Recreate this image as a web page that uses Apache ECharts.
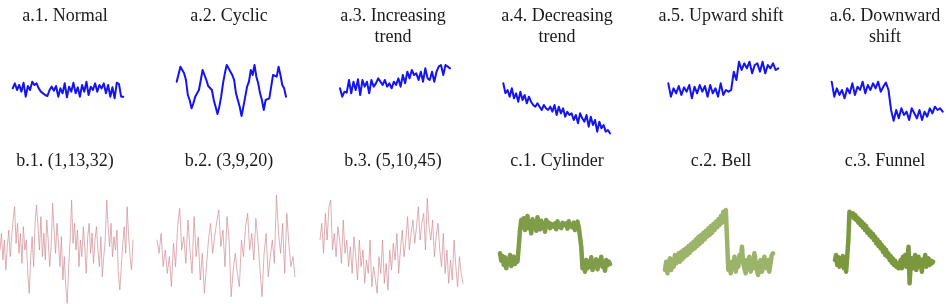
<!DOCTYPE html>
<html>
<head>
<meta charset="utf-8">
<script src="https://cdn.jsdelivr.net/npm/echarts@6/dist/echarts.min.js"></script>
<style>
  html, body { margin: 0; padding: 0; background: #fff; }
  #main { width: 951px; height: 304px; }
</style>
</head>
<body>
<div id="main"></div>
<script>
// panel titles
var titles = ['a.1. Normal', 'a.2. Cyclic', 'a.3. Increasing\ntrend', 'a.4. Decreasing\ntrend', 'a.5. Upward shift', 'a.6. Downward\nshift',
              'b.1. (1,13,32)', 'b.2. (3,9,20)', 'b.3. (5,10,45)', 'c.1. Cylinder', 'c.2. Bell', 'c.3. Funnel'];

// series values (depth below panel top; axis is inverted)
var normal = [265,250,270,255,275,248,290,258,270,245,255,250,265,275,280,285,288,270,260,272,258,290,265,280,250,292,260,275,248,280,262,290,255,275,245,285,260,270,250,275,255,265,250,280,255,290,262,295,248,252,290,290];
var cyclic = [245,250,200,205,220,240,285,300,325,310,290,280,270,265,210,208,240,258,255,270,300,320,342,320,290,250,220,195,205,215,225,240,280,300,320,348,320,290,260,245,210,225,195,230,250,280,300,330,300,300,295,290,225,220,230,200,225,255,265,290];
var increasing = [265,290,275,278,240,280,245,270,238,285,240,260,245,280,240,260,250,235,245,255,240,260,250,265,245,255,235,260,225,250,215,235,210,225,220,240,215,245,205,235,240,215,245,215,200,195,225,195,200,205];
var decreasing = [250,280,270,290,265,295,280,305,275,300,285,310,290,305,315,320,310,320,330,315,325,330,320,335,315,345,320,340,325,350,335,345,340,360,345,370,340,355,365,345,380,350,375,360,395,365,385,375,395,390,400];
var upward = [250,290,265,280,258,285,262,275,255,295,260,280,255,275,258,290,255,280,265,290,250,285,270,275,270,215,240,185,210,190,205,185,220,195,190,215,185,220,195,205,190,210,205];
var downward = [245,290,265,285,270,295,265,280,250,285,260,270,245,280,255,270,250,265,245,275,260,248,270,330,362,330,355,325,345,335,360,325,340,355,330,360,335,350,325,340,320,330,325,335];
var b1 = [330,280,360,300,390,320,270,350,290,240,200,310,250,340,280,370,260,330,300,400,460,350,290,380,250,195,260,330,230,350,280,360,240,300,380,320,190,270,340,250,310,380,290,420,350,440,490,380,300,180,310,250,330,270,380,300,350,260,320,400,290,250,340,280,370,300,260,330,380,290,410,350,300,180,260,320,250,350,290,330,270,400,450,380,310,260,340,200,290,350,390,300];
var b2 = [300,340,280,380,330,400,350,440,310,380,260,205,330,290,370,240,330,400,230,350,290,420,340,460,380,300,250,340,290,245,210,320,270,380,230,300,470,390,340,400,440,300,350,260,220,330,280,360,235,300,390,470,340,280,410,350,300,370,165,280,340,250,400,220,310,380,350,410];
var b3 = [300,250,340,220,300,200,180,330,280,350,260,300,370,240,340,300,380,320,400,290,350,420,300,380,330,430,360,400,300,440,380,420,460,350,400,300,430,370,450,330,390,310,360,280,400,330,270,350,300,230,330,280,240,310,260,200,300,250,220,330,175,260,300,240,350,290,250,330,380,280,400,330,430,360,420,300,380,440,350,400,430];
var cylinder = [340,362,348,375,352,385,358,370,345,378,360,350,372,355,365,320,270,
                240,262,235,270,248,228,265,252,280,238,258,245,272,232,255,268,242,262,250,275,240,258,248,265,252,246,260,250,268,244,258,252,264,248,256,262,250,266,244,258,254,262,248,270,255,245,262,258,
                320,385,370,395,360,385,365,380,352,390,368,375,358,388,362,372,350,380,368,392,360,376,365,372];
var bell = [390,365,400,375,355,390,360,380,345,370,355,340,365,335,358,330,350,325,345,318,338,312,330,305,325,298,318,290,312,285,305,278,298,272,290,265,285,258,278,252,270,245,262,238,255,228,248,215,235,210,
            300,390,375,400,365,385,350,395,370,380,345,360,320,370,385,400,360,380,350,395,372,385,340,365,390,405,375,360,395,380,350,370,385,360,395,370,345,340];
var funnel = [360,345,375,352,380,355,370,348,385,362,395,400,300,215,
              212,228,220,235,225,240,232,248,238,255,245,262,252,270,258,278,268,285,275,292,282,300,290,310,298,318,306,325,315,335,322,345,330,350,340,360,348,368,355,375,362,380,370,385,372,
              360,385,350,375,345,380,365,320,430,370,355,385,360,345,390,372,350,380,365,395,358,372,345,380,368,355,375,362,370,365];

var allData = [normal, cyclic, increasing, decreasing, upward, downward, b1, b2, b3, cylinder, bell, funnel];

var colCenter = [65, 229, 393, 557, 721, 885];
var lineLeft  = [12.7, 176.7, 340, 503.3, 668.3, 831.7, 0, 157, 320, 500, 665, 835];
var lineWidthPx = [110.6, 109.3, 110, 106.7, 110, 111, 133, 138, 143, 110, 108, 98];

var blue = '#1414f0';
var thinRed = '#cf8c94';
var greens = ['#7f9c48', '#9cb36a', '#7b983f'];

var grids = [], xAxes = [], yAxes = [], series = [], titleList = [];
for (var i = 0; i < 12; i++) {
  var row = i < 6 ? 0 : 1;
  grids.push({
    left: lineLeft[i], width: lineWidthPx[i],
    top: row === 0 ? 0 : 140, height: row === 0 ? 140 : 164
  });
  var cats = allData[i].map(function (v, k) { return k; });
  xAxes.push({ type: 'category', gridIndex: i, data: cats, boundaryGap: false, show: false });
  yAxes.push({ type: 'value', gridIndex: i, inverse: true, min: 0, max: row === 0 ? 420 : 492, show: false });
  var color, width;
  if (i < 6) { color = blue; width = 2; }
  else if (i < 9) { color = thinRed; width = 0.7; }
  else { color = greens[i - 9]; width = 4.5; }
  series.push({
    type: 'line', xAxisIndex: i, yAxisIndex: i, data: allData[i],
    symbol: 'none', silent: true, animation: false,
    lineStyle: { color: color, width: width, join: 'round', cap: 'round' }
  });
  titleList.push({
    text: titles[i], left: colCenter[i % 6], top: row === 0 ? 6 : 151,
    textAlign: 'center', padding: 0,
    textStyle: { fontFamily: 'Liberation Serif', fontSize: 18, fontWeight: 'normal', color: '#1a1a1a', lineHeight: 21 }
  });
}

var option = {
  animation: false,
  title: titleList,
  grid: grids,
  xAxis: xAxes,
  yAxis: yAxes,
  series: series
};

var myChart = echarts.init(document.getElementById('main'));
myChart.setOption(option);
</script>
</body>
</html>
